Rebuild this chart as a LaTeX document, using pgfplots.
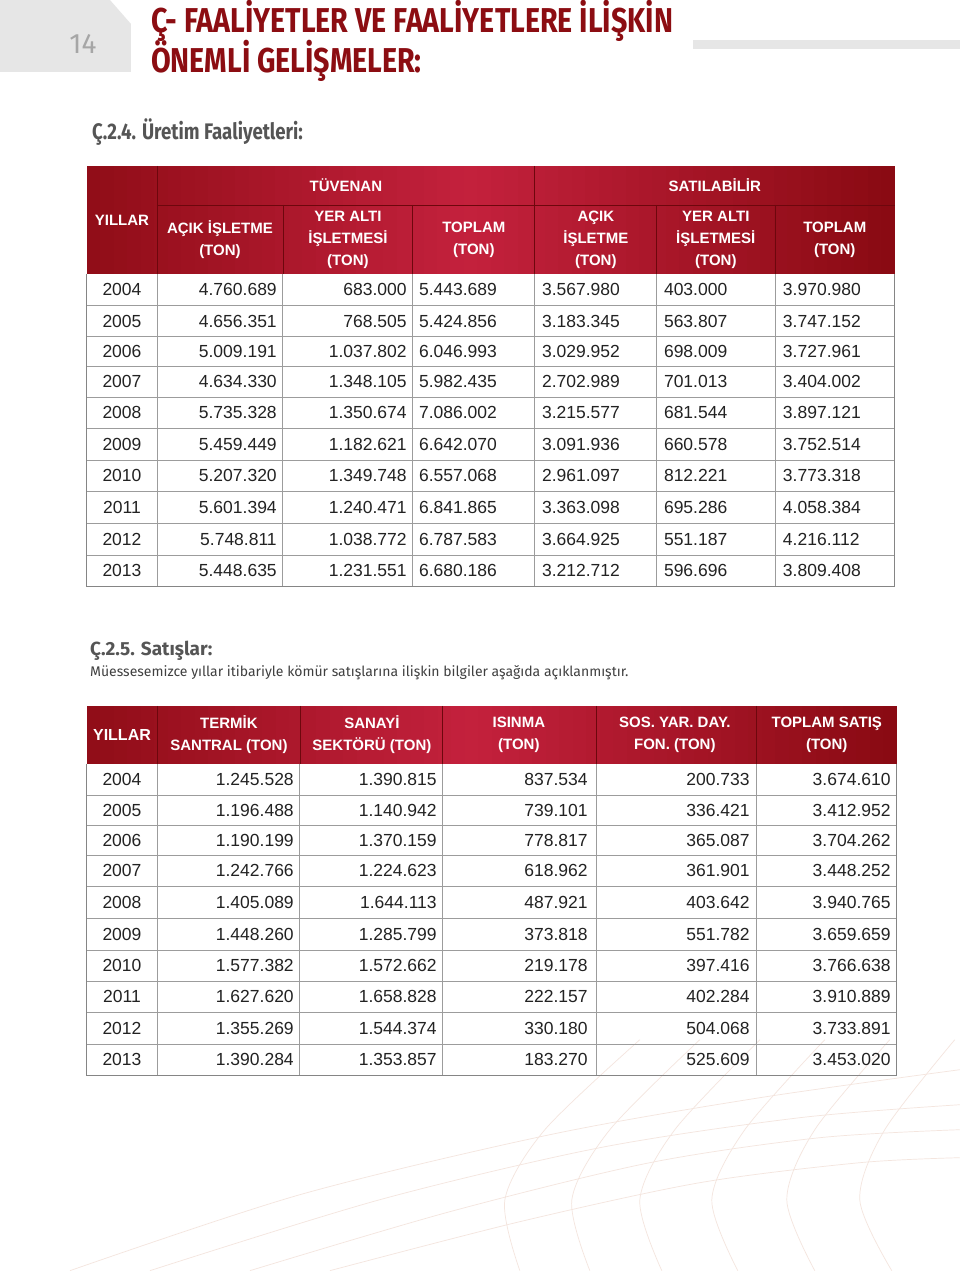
\documentclass[border=0pt]{standalone}
\usepackage{pgfplots}
\pgfplotsset{compat=1.18}
\usepackage{pgfplotstable}
\usepackage{fontspec}
\setmainfont{Liberation Sans}
\newfontfamily\condfont[FakeStretch=0.83]{Fira Sans}
\newfontfamily\firafont{Fira Sans}

\definecolor{titlered}{HTML}{8C0D12}
\definecolor{hdark}{HTML}{860910}
\definecolor{hlight}{HTML}{C4213D}
\definecolor{hline}{HTML}{6E070D}
\definecolor{gridc}{HTML}{9C9C9C}
\definecolor{txt}{HTML}{222222}
\definecolor{pagegrey}{HTML}{E6E6E6}
\definecolor{secgrey}{HTML}{555555}
\definecolor{swirl}{HTML}{F4E5DE}

% Uretim faaliyetleri (ton)
\pgfplotstableread{
y   yr   a          b          c          d          e        f
290 2004 4.760.689  683.000    5.443.689  3.567.980  403.000  3.970.980
322 2005 4.656.351  768.505    5.424.856  3.183.345  563.807  3.747.152
352 2006 5.009.191  1.037.802  6.046.993  3.029.952  698.009  3.727.961
382 2007 4.634.330  1.348.105  5.982.435  2.702.989  701.013  3.404.002
413 2008 5.735.328  1.350.674  7.086.002  3.215.577  681.544  3.897.121
445 2009 5.459.449  1.182.621  6.642.070  3.091.936  660.578  3.752.514
476 2010 5.207.320  1.349.748  6.557.068  2.961.097  812.221  3.773.318
508 2011 5.601.394  1.240.471  6.841.865  3.363.098  695.286  4.058.384
540 2012 5.748.811  1.038.772  6.787.583  3.664.925  551.187  4.216.112
571 2013 5.448.635  1.231.551  6.680.186  3.212.712  596.696  3.809.408
}\tabA

% Satislar (ton)
\pgfplotstableread{
y    yr   a          b          c        d        e
780  2004 1.245.528  1.390.815  837.534  200.733  3.674.610
811  2005 1.196.488  1.140.942  739.101  336.421  3.412.952
841  2006 1.190.199  1.370.159  778.817  365.087  3.704.262
871  2007 1.242.766  1.224.623  618.962  361.901  3.448.252
903  2008 1.405.089  1.644.113  487.921  403.642  3.940.765
935  2009 1.448.260  1.285.799  373.818  551.782  3.659.659
966  2010 1.577.382  1.572.662  219.178  397.416  3.766.638
997  2011 1.627.620  1.658.828  222.157  402.284  3.910.889
1029 2012 1.355.269  1.544.374  330.180  504.068  3.733.891
1060 2013 1.390.284  1.353.857  183.270  525.609  3.453.020
}\tabB

\newcommand{\cellfnt}{\fontsize{17.5}{20}\selectfont}
\newcommand{\hdrfnt}{\bfseries\fontsize{15}{22}\selectfont}

% header band: dark red at the edges, crimson in the middle (thin strips)
\newcommand{\hdrgrad}[4]{%
  \pgfmathsetmacro\ww{(#2-#1)/60}%
  \foreach \i in {0,...,59}{%
    \pgfmathsetmacro\xa{#1+\ww*\i}%
    \pgfmathsetmacro\xb{min(#2,#1+\ww*(\i+1)+0.6)}%
    \pgfmathsetmacro\tt{(\i+0.5)/60}%
    \pgfmathtruncatemacro\pp{100*max(0,1-abs(\tt-0.47)/0.56)}%
    \edef\tmp{\noexpand\fill[hlight!\pp!hdark] (axis cs:\xa,#3) rectangle (axis cs:\xb,#4);}\tmp
  }}

\pgfplotsset{
  cell/.style={draw=none, point meta=explicit symbolic, nodes near coords,
    nodes near coords style={anchor=#1, font=\cellfnt, text=txt, inner sep=0pt}},
}

\begin{document}
\begin{tikzpicture}
\begin{axis}[
    scale only axis, width=960pt, height=1271pt,
    xmin=0, xmax=960, ymin=0, ymax=1271, y dir=reverse,
    axis lines=none, clip=false,
]
% page background
\addplot[fill=white, draw=none] coordinates {(0,0) (960,0) (960,1271) (0,1271)} -- cycle;

% decorative swirl lines
\addplot[swirl, line width=0.7pt, smooth] coordinates {(70,1271) (300,1195) (550,1135) (760,1098) (960,1070)};
\addplot[swirl, line width=0.7pt, smooth] coordinates {(150,1271) (380,1200) (600,1148) (800,1118) (960,1105)};
\addplot[swirl, line width=0.7pt, smooth] coordinates {(250,1271) (450,1212) (650,1163) (820,1138) (960,1130)};
\addplot[swirl, line width=0.7pt, smooth] coordinates {(330,1271) (520,1222) (700,1183) (860,1163) (960,1158)};
\addplot[swirl, line width=0.7pt, smooth] coordinates {(640,1040) (545,1130) (505,1200) (520,1271)};
\addplot[swirl, line width=0.7pt, smooth] coordinates {(700,1040) (610,1130) (572,1200) (590,1271)};
\addplot[swirl, line width=0.7pt, smooth] coordinates {(760,1040) (675,1130) (640,1200) (662,1271)};
\addplot[swirl, line width=0.7pt, smooth] coordinates {(825,1040) (745,1130) (712,1200) (738,1271)};
\addplot[swirl, line width=0.7pt, smooth] coordinates {(890,1040) (815,1130) (787,1200) (815,1271)};
\addplot[swirl, line width=0.7pt, smooth] coordinates {(955,1040) (885,1130) (860,1200) (892,1271)};

% page header
\addplot[fill=pagegrey, draw=none] coordinates {(0,0) (110,0) (131,24) (131,72) (0,72)} -- cycle;
\addplot[fill=pagegrey, draw=none] coordinates {(693,40) (960,40) (960,49) (693,49)} -- cycle;
\node[font=\firafont\fontsize{28}{30}\selectfont, text=black!35] at (axis cs:83,44) {14};
\node[anchor=west, inner sep=0pt, font=\condfont\bfseries\fontsize{34.5}{40}\selectfont, text=titlered]
  at (axis cs:151,21) {Ç- FAALİYETLER VE FAALİYETLERE İLİŞKİN};
\node[anchor=west, inner sep=0pt, font=\condfont\bfseries\fontsize{34.5}{40}\selectfont, text=titlered]
  at (axis cs:151,61) {ÖNEMLİ GELİŞMELER:};
\node[anchor=west, inner sep=0pt, font=\condfont\bfseries\fontsize{22.5}{26}\selectfont, text=secgrey]
  at (axis cs:92,132) {Ç.2.4. Üretim Faaliyetleri:};

% ---- table 1: header ----
\hdrgrad{87}{895}{166}{274}
\draw[hline, line width=0.8pt] (axis cs:157,205) -- (axis cs:895,205);
\pgfplotsinvokeforeach{157,535}{\draw[hline, line width=0.8pt] (axis cs:#1,166) -- (axis cs:#1,274);}
\pgfplotsinvokeforeach{283,413,657,776}{\draw[hline, line width=0.8pt] (axis cs:#1,205) -- (axis cs:#1,274);}
\begin{scope}[every node/.style={align=center, font=\hdrfnt, text=white, inner sep=0pt}]
\node at (axis cs:122,220) {YILLAR};
\node at (axis cs:346,185) {TÜVENAN};
\node at (axis cs:715,185) {SATILABİLİR};
\node at (axis cs:220,240) {AÇIK İŞLETME\\(TON)};
\node at (axis cs:348,240) {YER ALTI\\İŞLETMESİ\\(TON)};
\node at (axis cs:474,240) {TOPLAM\\(TON)};
\node at (axis cs:596,240) {AÇIK\\İŞLETME\\(TON)};
\node at (axis cs:716,240) {YER ALTI\\İŞLETMESİ\\(TON)};
\node at (axis cs:835,240) {TOPLAM\\(TON)};
\end{scope}

% ---- table 1: body ----
\pgfplotsinvokeforeach{306,337,367,398,429,461,492,524,556}{
  \addplot[gridc, line width=0.9pt] coordinates {(87,#1) (895,#1)};}
\pgfplotsinvokeforeach{157,283,413,535,657,776}{
  \addplot[gridc, line width=0.9pt] coordinates {(#1,274) (#1,587)};}
\addplot[gridc!85!black, line width=1pt] coordinates {(87,274) (87,587) (895,587) (895,274)};

\addplot[cell=center] table[x expr=122, y=y, meta=yr] {\tabA};
\addplot[cell=east] table[x expr=277, y=y, meta=a] {\tabA};
\addplot[cell=east] table[x expr=407, y=y, meta=b] {\tabA};
\addplot[cell=west] table[x expr=419, y=y, meta=c] {\tabA};
\addplot[cell=west] table[x expr=542, y=y, meta=d] {\tabA};
\addplot[cell=west] table[x expr=664, y=y, meta=e] {\tabA};
\addplot[cell=west] table[x expr=783, y=y, meta=f] {\tabA};

% ---- section 2.5 ----
\node[anchor=west, inner sep=0pt, font=\firafont\bfseries\fontsize{19}{22}\selectfont, text=secgrey]
  at (axis cs:90,651) {Ç.2.5. Satışlar:};
\node[anchor=west, inner sep=0pt, font=\firafont\fontsize{14}{16}\selectfont, text=black!75]
  at (axis cs:90,673) {Müessesemizce yıllar itibariyle kömür satışlarına ilişkin bilgiler aşağıda açıklanmıştır.};

% ---- table 2: header ----
\hdrgrad{87}{897}{706}{764}
\pgfplotsinvokeforeach{157,300,443,597,757}{\draw[hline, line width=0.8pt] (axis cs:#1,706) -- (axis cs:#1,764);}
\begin{scope}[every node/.style={align=center, font=\hdrfnt, text=white, inner sep=0pt}]
\node[font=\bfseries\fontsize{16}{22}\selectfont] at (axis cs:122,735) {YILLAR};
\node at (axis cs:229,735) {TERMİK\\SANTRAL (TON)};
\node at (axis cs:372,735) {SANAYİ\\SEKTÖRÜ (TON)};
\node at (axis cs:519,735) {ISINMA\\(TON)};
\node at (axis cs:675,735) {SOS. YAR. DAY.\\FON. (TON)};
\node at (axis cs:827,735) {TOPLAM SATIŞ\\(TON)};
\end{scope}

% ---- table 2: body ----
\pgfplotsinvokeforeach{796,826,856,887,919,951,982,1013,1045}{
  \addplot[gridc, line width=0.9pt] coordinates {(87,#1) (897,#1)};}
\pgfplotsinvokeforeach{157,300,443,597,757}{
  \addplot[gridc, line width=0.9pt] coordinates {(#1,764) (#1,1076)};}
\addplot[gridc!85!black, line width=1pt] coordinates {(87,764) (87,1076) (897,1076) (897,764)};

\addplot[cell=center] table[x expr=122, y=y, meta=yr] {\tabB};
\addplot[cell=east] table[x expr=294, y=y, meta=a] {\tabB};
\addplot[cell=east] table[x expr=437, y=y, meta=b] {\tabB};
\addplot[cell=east] table[x expr=588, y=y, meta=c] {\tabB};
\addplot[cell=east] table[x expr=750, y=y, meta=d] {\tabB};
\addplot[cell=east] table[x expr=891, y=y, meta=e] {\tabB};
\end{axis}
\end{tikzpicture}
\end{document}
